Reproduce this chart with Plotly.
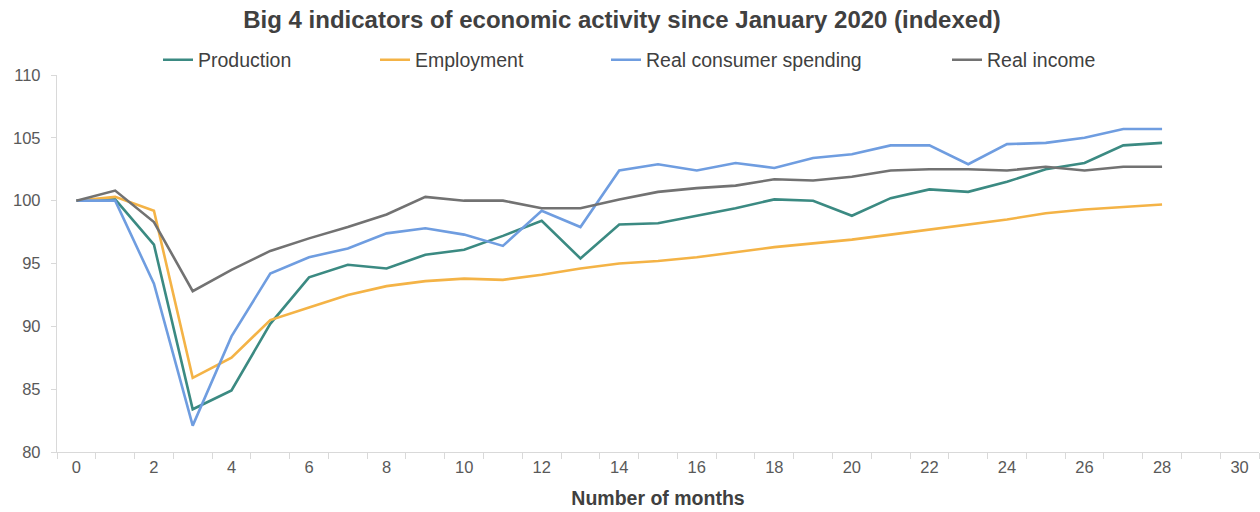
import plotly.graph_objects as go

months = list(range(0, 29))
production = [100.0, 100.1, 96.5, 83.4, 84.9, 90.2, 93.9, 94.9, 94.6, 95.7, 96.1, 97.2, 98.4, 95.4, 98.1,
              98.2, 98.8, 99.4, 100.1, 100.0, 98.8, 100.2, 100.9, 100.7, 101.5, 102.5, 103.0, 104.4, 104.6]
employment = [100.0, 100.3, 99.2, 85.9, 87.5, 90.5, 91.5, 92.5, 93.2, 93.6, 93.8, 93.7, 94.1, 94.6, 95.0,
              95.2, 95.5, 95.9, 96.3, 96.6, 96.9, 97.3, 97.7, 98.1, 98.5, 99.0, 99.3, 99.5, 99.7]
spending = [100.0, 100.0, 93.4, 82.1, 89.2, 94.2, 95.5, 96.2, 97.4, 97.8, 97.3, 96.4, 99.2, 97.9, 102.4,
            102.9, 102.4, 103.0, 102.6, 103.4, 103.7, 104.4, 104.4, 102.9, 104.5, 104.6, 105.0, 105.7, 105.7]
income = [100.0, 100.8, 98.3, 92.8, 94.5, 96.0, 97.0, 97.9, 98.9, 100.3, 100.0, 100.0, 99.4, 99.4, 100.1,
          100.7, 101.0, 101.2, 101.7, 101.6, 101.9, 102.4, 102.5, 102.5, 102.4, 102.7, 102.4, 102.7, 102.7]

series_names = ["Production", "Employment", "Real consumer spending", "Real income"]
series_values = [production, employment, spending, income]
colors = ["#3b8a82", "#f4b346", "#6f9de0", "#727272"]

x_tick_vals = list(range(0, 31, 2))
x_tick_labels = [str(v) for v in x_tick_vals]
y_tick_vals = [80, 85, 90, 95, 100, 105, 110]

legend_ids = ["legend", "legend2", "legend3", "legend4"]
legend_px = [158, 375, 606, 947]  # left pixel of each legend block

FONT = "Liberation Sans, Arial, sans-serif"

fig = go.Figure()
for name, vals, col, lid in zip(series_names, series_values, colors, legend_ids):
    fig.add_trace(go.Scatter(x=months, y=vals, name=name, mode="lines",
                             line=dict(color=col, width=2.6), legend=lid))

W, H = 1260, 512
ml, mr, mt, mb = 57, 1, 75, 60
pw = W - ml - mr
ph = H - mt - mb

layout_legends = {}
for lid, px in zip(legend_ids, legend_px):
    layout_legends[lid] = dict(
        x=(px - ml) / pw, xanchor="left",
        y=(H - mb - 60) / ph, yanchor="middle",
        orientation="h", bgcolor="rgba(0,0,0,0)",
        font=dict(family=FONT, size=19.5, color="#404040"),
        itemwidth=30, borderwidth=0,
    )

fig.update_layout(
    width=W, height=H,
    margin=dict(l=ml, r=mr, t=mt, b=mb),
    paper_bgcolor="white", plot_bgcolor="white",
    title=dict(text="<b>Big 4 indicators of economic activity since January 2020 (indexed)</b>",
               x=622 / W, xanchor="center", xref="container",
               y=1 - 20 / H, yanchor="middle", yref="container",
               font=dict(family=FONT, size=24, color="#404040")),
    showlegend=True,
    **layout_legends,
)

fig.update_xaxes(
    range=[-0.5, 30.5], tickmode="array", tickvals=x_tick_vals, ticktext=x_tick_labels,
    ticks="", showgrid=False, zeroline=False,
    showline=True, linecolor="#d9d9d9", linewidth=1.3,
    tickfont=dict(family=FONT, size=16.5, color="#595959"),
    minor=dict(tickmode="linear", tick0=-0.5, dtick=1, ticks="outside", ticklen=6,
               tickcolor="#d9d9d9", tickwidth=1.3, showgrid=False),
    title=dict(text="<b>Number of months</b>", standoff=16,
               font=dict(family=FONT, size=19.5, color="#404040")),
)
fig.update_yaxes(
    range=[80, 110], tickmode="array", tickvals=y_tick_vals,
    ticks="outside", ticklen=5, tickcolor="#d9d9d9", tickwidth=1.3,
    showgrid=False, zeroline=False,
    showline=True, linecolor="#d9d9d9", linewidth=1.3,
    tickfont=dict(family=FONT, size=16.5, color="#595959"),
    ticklabelstandoff=7,
)

fig.write_html("out.html")
